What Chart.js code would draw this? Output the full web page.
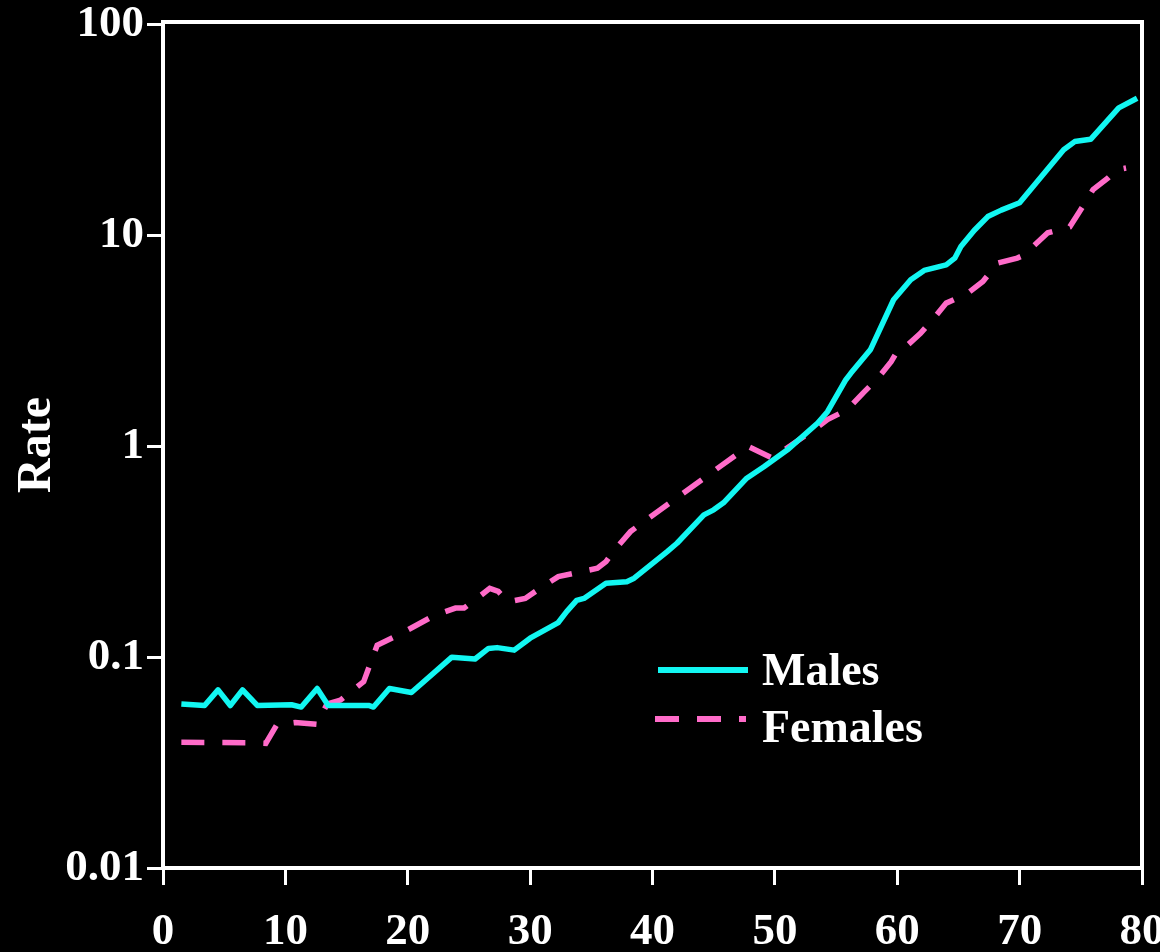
<!DOCTYPE html>
<html>
<head>
<meta charset="utf-8">
<script src="https://cdn.jsdelivr.net/npm/chart.js@4/dist/chart.umd.min.js"></script>
<style>
  html, body { margin: 0; padding: 0; background: #000; }
  #wrap { width: 1160px; height: 952px; }
</style>
</head>
<body>
<div id="wrap"><canvas id="c" width="1160" height="952"></canvas></div>
<script>
const maleAges = [1.5, 3.4, 4.5, 5.5, 6.5, 7.7, 10.5, 11.3, 12.6, 13.5, 16.8, 17.2, 18.5, 20.3, 23.6, 25.5, 26.6, 27.3, 28.7, 30.0, 32.3, 33.0, 33.8, 34.4, 36.2, 37.9, 38.5, 41.2, 42.0, 44.2, 45.0, 45.8, 47.7, 49.1, 51.0, 53.5, 54.3, 55.8, 56.2, 57.8, 59.7, 61.1, 62.2, 64.0, 64.7, 65.2, 66.3, 67.4, 68.5, 70.0, 73.6, 74.5, 75.8, 78.1, 79.6];
const maleRates = [0.060, 0.059, 0.070, 0.059, 0.070, 0.059, 0.0595, 0.058, 0.071, 0.059, 0.059, 0.058, 0.071, 0.068, 0.100, 0.098, 0.110, 0.111, 0.108, 0.123, 0.146, 0.165, 0.186, 0.190, 0.224, 0.228, 0.237, 0.317, 0.347, 0.473, 0.50, 0.54, 0.706, 0.80, 0.96, 1.29, 1.46, 2.07, 2.22, 2.87, 4.96, 6.17, 6.83, 7.26, 7.81, 8.87, 10.6, 12.3, 13.2, 14.3, 25.5, 27.9, 28.6, 40.3, 44.8];

const femaleAges = [1.5, 6.8, 8.4, 9.3, 10.8, 12.6, 13.4, 14.5, 16.4, 17.5, 19.3, 22.2, 23.9, 24.6, 25.4, 26.7, 27.4, 28.2, 29.6, 31.0, 32.3, 33.6, 35.5, 36.2, 36.8, 38.2, 39.3, 47.8, 49.8, 53.2, 54.3, 55.9, 57.2, 58.4, 59.5, 60.0, 60.7, 61.9, 63.0, 64.0, 65.7, 67.0, 68.2, 69.8, 70.2, 71.1, 72.3, 74.1, 74.9, 76.0, 77.2, 77.9, 78.7];
const femaleRates = [0.0395, 0.0393, 0.039, 0.0478, 0.049, 0.048, 0.060, 0.0626, 0.0766, 0.114, 0.128, 0.158, 0.171, 0.171, 0.185, 0.212, 0.205, 0.183, 0.190, 0.216, 0.241, 0.250, 0.264, 0.284, 0.317, 0.394, 0.44, 1.0, 0.88, 1.2, 1.34, 1.49, 1.79, 2.1, 2.52, 2.82, 2.97, 3.44, 4.06, 4.78, 5.29, 6.05, 7.4, 7.82, 8.0, 8.87, 10.3, 11.0, 13.0, 16.5, 18.7, 20.5, 20.9];

const seriesNames = ['Males', 'Females'];
const yTickValues = [0.01, 0.1, 1, 10, 100];
const yTickLabels = ['0.01', '0.1', '1', '10', '100'];
const xTickValues = [0, 10, 20, 30, 40, 50, 60, 70, 80];
const yTitle = 'Rate';

const CYAN = '#12F7F2';
const PINK = '#FF6BC9';
const FONT = '"Liberation Serif", "Times New Roman", serif';

function pts(xs, ys) { return xs.map((x, i) => ({ x: x, y: ys[i] })); }

const framePlugin = {
  id: 'frame',
  afterDatasetsDraw(chart) {
    const a = chart.chartArea, ctx = chart.ctx;
    ctx.save();
    ctx.strokeStyle = '#fff';
    ctx.lineWidth = 4;
    ctx.strokeRect(a.left, a.top, a.right - a.left, a.bottom - a.top);
    ctx.restore();
  }
};

const legendPlugin = {
  id: 'customLegend',
  afterDraw(chart) {
    const ctx = chart.ctx;
    ctx.save();
    ctx.lineWidth = 6;
    ctx.lineCap = 'butt';
    ctx.strokeStyle = CYAN;
    ctx.setLineDash([]);
    ctx.beginPath(); ctx.moveTo(658, 670); ctx.lineTo(748, 670); ctx.stroke();
    ctx.strokeStyle = PINK;
    ctx.setLineDash([24, 18]);
    ctx.beginPath(); ctx.moveTo(655, 719); ctx.lineTo(746, 719); ctx.stroke();
    ctx.setLineDash([]);
    ctx.fillStyle = '#fff';
    ctx.font = 'bold 46px ' + FONT;
    ctx.textBaseline = 'alphabetic';
    ctx.textAlign = 'left';
    ctx.fillText(chart.data.datasets[0].label, 762, 685);
    ctx.fillText(chart.data.datasets[1].label, 762, 742);
    ctx.restore();
  }
};

new Chart(document.getElementById('c'), {
  type: 'line',
  data: {
    datasets: [
      {
        label: seriesNames[0],
        data: pts(maleAges, maleRates),
        borderColor: CYAN,
        borderWidth: 5.5,
        pointRadius: 0,
        tension: 0,
        fill: false,
        borderJoinStyle: 'round'
      },
      {
        label: seriesNames[1],
        data: pts(femaleAges, femaleRates),
        borderColor: PINK,
        borderWidth: 5.5,
        borderDash: [23, 18],
        pointRadius: 0,
        tension: 0,
        fill: false
      }
    ]
  },
  options: {
    responsive: false,
    animation: false,
    events: [],
    layout: { padding: { top: 22, right: 18, left: 0, bottom: 0 } },
    plugins: { legend: { display: false }, tooltip: { enabled: false } },
    scales: {
      x: {
        type: 'linear',
        min: 0,
        max: 80,
        afterBuildTicks(scale) { scale.ticks = xTickValues.map(v => ({ value: v })); },
        afterFit(scale) { scale.height = 84; scale.paddingLeft = 0; scale.paddingRight = 0; },
        ticks: {
          color: '#fff',
          font: { family: FONT, size: 45, weight: 'bold' },
          padding: 20,
          maxRotation: 0,
          autoSkip: false,
          callback: v => String(v)
        },
        grid: { display: true, drawOnChartArea: false, drawTicks: true, tickLength: 17, tickWidth: 3, tickColor: '#fff', color: '#fff' },
        border: { display: false }
      },
      y: {
        type: 'logarithmic',
        min: 0.01,
        max: 103,
        afterBuildTicks(scale) { scale.ticks = yTickValues.map(v => ({ value: v })); },
        afterFit(scale) { scale.width = 163; scale.paddingTop = 0; scale.paddingBottom = 0; },
        ticks: {
          color: '#fff',
          font: { family: FONT, size: 45, weight: 'bold' },
          padding: 3,
          autoSkip: false,
          callback: (v) => { const i = yTickValues.indexOf(v); return i >= 0 ? yTickLabels[i] : ''; }
        },
        grid: { display: true, drawOnChartArea: false, drawTicks: true, tickLength: 16, tickWidth: 3, tickColor: '#fff', color: '#fff' },
        border: { display: false },
        title: {
          display: true,
          text: yTitle,
          color: '#fff',
          font: { family: FONT, size: 48, weight: 'bold' },
          padding: { top: 9, bottom: 0 }
        }
      }
    }
  },
  plugins: [framePlugin, legendPlugin]
});
</script>
</body>
</html>
